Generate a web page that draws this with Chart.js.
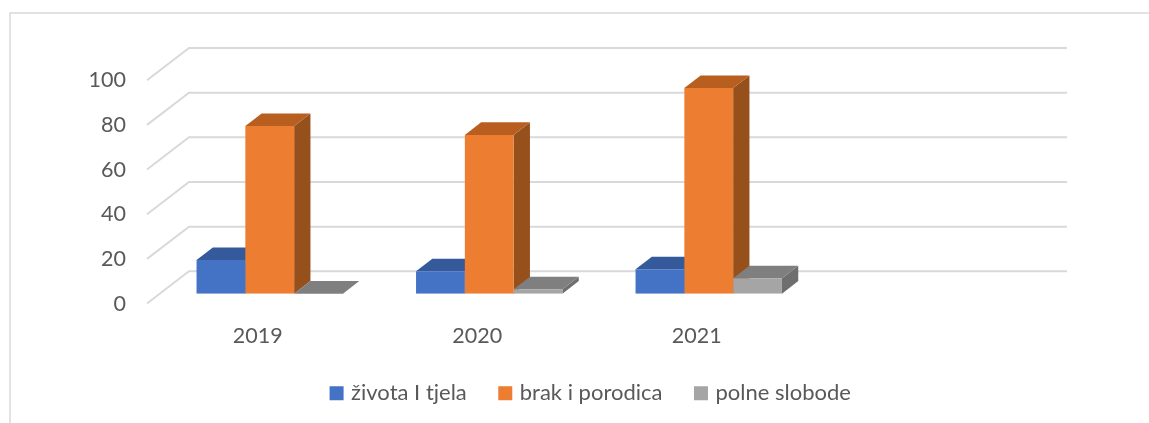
<!DOCTYPE html>
<html>
<head>
<meta charset="utf-8">
<title>Chart</title>
<script src="https://cdn.jsdelivr.net/npm/chart.js@4/dist/chart.umd.js"></script>
<style>
  html, body { margin: 0; padding: 0; background: #ffffff; }
  canvas { display: block; }
</style>
</head>
<body>
<canvas id="grafico" width="1149" height="423"></canvas>
<script>
// the last category is empty, the original chart keeps a free slot there
const categories = ['2019', '2020', '2021', ''];
const zivotaTjela = [15.1, 10.0, 10.9];
const brakPorodica = [75.1, 71.1, 92.1];
const polneSlobode = [0, 2.0, 6.9];
const seriesNames = ['života I tjela', 'brak i porodica', 'polne slobode'];

const frontColors = ['#4472c4', '#ed7d31', '#a5a5a5'];
const topColors = ['#355a9b', '#b85f20', '#7f7f7f'];
const sideColors = ['#2f4f88', '#96501c', '#6e6e6e'];

const gridColor = '#d9d9d9';
const textColor = '#595959';

// depth of a bar, and of the walls, measured from the plane of the bars
const barDepth = { x: 16.3, y: -12.6 };
const wallBack = { x: 29, y: -22.4 };
const wallFront = { x: -13, y: 9.8 };

function face(ctx, color, pts) {
    ctx.fillStyle = color;
    ctx.beginPath();
    ctx.moveTo(pts[0][0], pts[0][1]);
    for (let i = 1; i < pts.length; i++) {
        ctx.lineTo(pts[i][0], pts[i][1]);
    }
    ctx.closePath();
    ctx.fill();
}

const efeito3d = {
    id: 'efeito3d',
    afterLayout(chart) {
        // the legend sits right of the canvas centre and above its normal row
        chart.legend.left = 146;
        chart.legend.top -= 8.8;
    },
    beforeDraw(chart) {
        // outer frame, only the top and the left side show in the original
        const ctx = chart.ctx;
        ctx.save();
        ctx.strokeStyle = gridColor;
        ctx.lineWidth = 1.5;
        ctx.beginPath();
        ctx.moveTo(10, chart.height);
        ctx.lineTo(10, 13);
        ctx.lineTo(chart.width, 13);
        ctx.stroke();
        ctx.restore();
    },
    beforeDatasetsDraw(chart) {
        const ctx = chart.ctx;
        const xs = chart.scales.x;
        const ys = chart.scales.y;
        ctx.save();

        // floor and wall lines come from the y ticks
        ctx.strokeStyle = gridColor;
        ctx.lineWidth = 2;
        ys.ticks.forEach(t => {
            const py = ys.getPixelForValue(t.value);
            ctx.beginPath();
            ctx.moveTo(xs.left + wallFront.x, py + wallFront.y);
            ctx.lineTo(xs.left + wallBack.x, py + wallBack.y);
            ctx.lineTo(xs.right + wallBack.x, py + wallBack.y);
            ctx.stroke();
        });

        // side and top of the bars, the fronts are the library's own bars
        chart.data.datasets.forEach((ds, d) => {
            chart.getDatasetMeta(d).data.forEach(bar => {
                const p = bar.getProps(['x', 'y', 'base', 'width'], true);
                const l = p.x - p.width / 2;
                const r = p.x + p.width / 2;
                face(ctx, sideColors[d], [
                    [r, p.y], [r + barDepth.x, p.y + barDepth.y],
                    [r + barDepth.x, p.base + barDepth.y], [r, p.base]
                ]);
                face(ctx, topColors[d], [
                    [l, p.y], [r, p.y],
                    [r + barDepth.x, p.y + barDepth.y], [l + barDepth.x, p.y + barDepth.y]
                ]);
            });
        });
        ctx.restore();
    }
};

const datasets = [zivotaTjela, brakPorodica, polneSlobode].map((values, i) => ({
    label: seriesNames[i],
    data: values,
    backgroundColor: frontColors[i],
    borderWidth: 0,
    barPercentage: 1,
    categoryPercentage: 0.667
}));

new Chart(document.getElementById('grafico').getContext('2d'), {
    type: 'bar',
    data: { labels: categories, datasets: datasets },
    plugins: [efeito3d],
    options: {
        responsive: false,
        animation: false,
        layout: { padding: { left: 0, right: 111, top: 70.4, bottom: 0 } },
        plugins: {
            title: { display: false },
            tooltip: { enabled: false },
            legend: {
                position: 'bottom',
                labels: {
                    // small box with a thick border of the same colour: the text comes closer to it
                    boxWidth: 7,
                    boxHeight: 7,
                    padding: 35,
                    color: textColor,
                    font: { family: 'Lato', size: 22 },
                    generateLabels(chart) {
                        return Chart.defaults.plugins.legend.labels.generateLabels(chart).map(item => {
                            item.lineWidth = 7;
                            item.strokeStyle = item.fillStyle;
                            return item;
                        });
                    }
                }
            }
        },
        scales: {
            x: {
                grid: { display: false, drawTicks: false },
                border: { display: false },
                afterFit(scale) { scale.height = 62.3; },
                ticks: {
                    color: textColor,
                    padding: 29,
                    labelOffset: -12,
                    maxRotation: 0,
                    font: { family: 'Lato', size: 21.5 }
                }
            },
            y: {
                min: 0,
                max: 100,
                grid: { display: false, drawTicks: false },
                border: { display: false },
                afterFit(scale) { scale.width = 160; },
                ticks: {
                    stepSize: 20,
                    color: textColor,
                    padding: 34,
                    labelOffset: 10,
                    font: { family: 'Lato', size: 21.5 }
                }
            }
        }
    }
});
</script>
</body>
</html>
